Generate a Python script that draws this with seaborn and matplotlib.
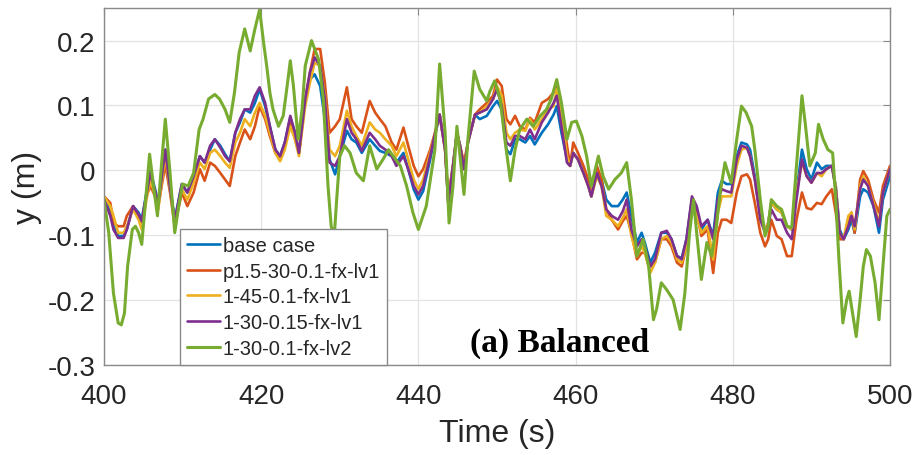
import numpy as np
import pandas as pd
import matplotlib
matplotlib.use("Agg")
import matplotlib.pyplot as plt
import seaborn as sns

# ---------------- data ----------------
t_main = [400.0, 400.8, 401.2, 401.8, 402.5, 402.9, 403.7, 404.4, 404.8, 405.4, 405.9, 406.5, 406.9, 407.8, 408.4, 409.0,
          409.9, 410.6, 411.4, 412.2, 412.8, 413.5, 414.1, 414.8, 415.4, 416.0,
          416.7, 417.3, 417.9, 418.6, 419.2, 419.8, 420.5, 421.1, 421.8, 422.4, 423.0, 423.7, 424.3, 424.8, 425.6, 426.2,
          426.8, 427.5, 428.1, 428.7, 429.4, 430.0, 430.9, 431.5, 432.1, 432.8,
          433.8, 434.5, 435.1, 435.8, 436.6, 437.2, 438.1, 438.7, 439.4, 440.0, 440.6, 441.5, 442.1, 442.7, 443.4, 443.8,
          444.4, 444.9, 445.3, 445.8, 446.3, 447.2, 447.8, 448.7, 449.5,
          450.0, 450.6, 451.2, 451.7, 452.3, 452.9, 453.6, 454.2, 454.8, 455.7, 456.5, 457.2, 457.6, 458.2, 458.9, 459.3,
          459.7, 460.3, 461.0, 461.6, 462.0, 462.7, 463.3, 463.9, 464.6, 465.4, 466.0,
          466.5, 467.1, 467.8, 468.4, 468.8, 469.5, 470.1, 470.9, 471.6, 472.2, 472.9, 473.5, 474.1, 474.8, 475.4, 476.0,
          476.8, 477.5, 478.1, 478.6, 479.2, 479.8, 480.5, 481.1, 481.8,
          482.2, 482.8, 483.5, 484.1, 484.5, 484.9, 485.6, 486.2, 486.9, 487.5, 488.1, 488.8, 489.4, 490.0, 490.7, 491.3,
          491.9, 492.6, 493.1, 493.6, 494.1, 494.7, 495.1, 495.5, 496.2, 496.6, 497.2, 497.9, 498.6, 499.1, 500.0]

y_base = [-0.042, -0.065, -0.086, -0.101, -0.101, -0.091, -0.055, -0.065, -0.076, -0.034, -0.001, -0.029, -0.050, 0.032,
          -0.024, -0.076, -0.021, -0.034, -0.009, 0.022, 0.012, 0.032, 0.048, 0.038, 0.025, 0.014,
          0.058, 0.074, 0.094, 0.089, 0.104, 0.125, 0.099, 0.068, 0.032, 0.022, 0.043, 0.081, 0.058, 0.027, 0.110, 0.140,
          0.148, 0.130, 0.079, 0.017, -0.006, 0.022, 0.061, 0.048, 0.043, 0.027,
          0.048, 0.038, 0.030, 0.027, 0.022, 0.012, 0.027, 0.002, -0.029, -0.045, -0.032, 0.017, 0.053, 0.086, 0.032,
          -0.050, 0.007, 0.058, 0.038, 0.002, 0.043, 0.086, 0.079, 0.084, 0.099,
          0.107, 0.094, 0.032, 0.025, 0.048, 0.048, 0.043, 0.053, 0.040, 0.058, 0.071, 0.086, 0.099, 0.058, 0.017, 0.007,
          0.027, 0.017, -0.004, -0.019, -0.040, -0.004, -0.014, -0.045, -0.055, -0.055, -0.045,
          -0.034, -0.070, -0.111, -0.096, -0.111, -0.142, -0.127, -0.096, -0.096, -0.106, -0.132, -0.135, -0.106, -0.045,
          -0.065, -0.091, -0.076, -0.101, -0.034, -0.016, -0.021, -0.021, 0.022, 0.043, 0.040,
          0.032, -0.009, -0.070, -0.091, -0.081, -0.050, -0.060, -0.065, -0.086, -0.091, -0.034, 0.032, 0.002, -0.014,
          0.012, 0.002, 0.007, 0.007, -0.024, -0.091, -0.106, -0.091, -0.076, -0.096, -0.040, -0.029, -0.034, -0.055,
          -0.096, -0.045, -0.009]

y_p15 = [-0.040, -0.050, -0.081, -0.086, -0.086, -0.070, -0.055, -0.070, -0.081, -0.040, -0.024, -0.040, -0.055, 0.009,
         -0.034, -0.086, -0.034, -0.055, -0.034, 0.002, -0.016, 0.012, 0.007, -0.004, -0.014, -0.024,
         0.022, 0.043, 0.063, 0.048, 0.068, 0.099, 0.079, 0.053, 0.027, 0.017, 0.038, 0.074, 0.048, 0.027, 0.110, 0.151,
         0.187, 0.187, 0.135, 0.058, 0.068, 0.079, 0.128, 0.079, 0.068, 0.058,
         0.107, 0.089, 0.079, 0.068, 0.043, 0.032, 0.066, 0.038, 0.007, -0.009, 0.002, 0.032, 0.058, 0.086, 0.032,
         -0.040, 0.007, 0.058, 0.038, 0.012, 0.043, 0.086, 0.094, 0.104, 0.115,
         0.140, 0.130, 0.079, 0.071, 0.084, 0.068, 0.063, 0.081, 0.074, 0.104, 0.110, 0.120, 0.135, 0.094, 0.038, 0.007,
         0.043, 0.027, 0.007, -0.014, -0.040, 0.007, -0.014, -0.060, -0.076, -0.091, -0.078,
         -0.070, -0.096, -0.137, -0.127, -0.127, -0.148, -0.142, -0.106, -0.106, -0.117, -0.142, -0.148, -0.117, -0.050,
         -0.065, -0.101, -0.091, -0.158, -0.096, -0.076, -0.076, -0.081, -0.034, -0.009, -0.006,
         -0.014, -0.050, -0.096, -0.117, -0.106, -0.076, -0.101, -0.106, -0.132, -0.132, -0.076, -0.034, -0.058, -0.060,
         -0.050, -0.052, -0.040, -0.029, -0.065, -0.106, -0.106, -0.076, -0.065, -0.096, -0.014, -0.001, -0.014, -0.045,
         -0.065, -0.024, 0.007]

y_45 = [-0.040, -0.055, -0.070, -0.096, -0.096, -0.086, -0.060, -0.076, -0.091, -0.045, -0.014, -0.040, -0.060, 0.022,
        -0.029, -0.081, -0.029, -0.045, -0.019, 0.012, 0.002, 0.027, 0.032, 0.022, 0.012, 0.004,
        0.043, 0.058, 0.079, 0.068, 0.089, 0.104, 0.084, 0.058, 0.027, 0.014, 0.032, 0.068, 0.048, 0.022, 0.099, 0.135,
        0.166, 0.161, 0.115, 0.032, 0.022, 0.038, 0.092, 0.068, 0.053, 0.038,
        0.074, 0.063, 0.058, 0.048, 0.038, 0.022, 0.043, 0.017, -0.014, -0.029, -0.014, 0.027, 0.056, 0.086, 0.032,
        -0.050, 0.007, 0.058, 0.038, 0.002, 0.043, 0.086, 0.089, 0.099, 0.110,
        0.130, 0.115, 0.058, 0.048, 0.058, 0.063, 0.061, 0.079, 0.063, 0.079, 0.094, 0.099, 0.125, 0.089, 0.022, 0.007,
        0.027, 0.017, -0.004, -0.024, -0.040, -0.009, -0.024, -0.070, -0.076, -0.086, -0.073,
        -0.060, -0.101, -0.132, -0.117, -0.127, -0.158, -0.142, -0.106, -0.101, -0.111, -0.137, -0.142, -0.117, -0.055,
        -0.070, -0.096, -0.086, -0.137, -0.065, -0.040, -0.040, -0.040, 0.007, 0.032, 0.035,
        0.022, -0.014, -0.070, -0.091, -0.081, -0.050, -0.060, -0.065, -0.086, -0.091, -0.034, 0.012, -0.009, -0.019,
        -0.004, -0.009, 0.002, 0.007, -0.024, -0.096, -0.106, -0.070, -0.065, -0.091, -0.024, -0.009, -0.024, -0.050,
        -0.081, -0.034, 0.002]

y_015 = [-0.045, -0.070, -0.091, -0.104, -0.104, -0.091, -0.055, -0.068, -0.078, -0.037, -0.004, -0.032, -0.052, 0.032,
         -0.027, -0.078, -0.021, -0.034, -0.009, 0.022, 0.012, 0.038, 0.048, 0.035, 0.022, 0.014,
         0.058, 0.079, 0.094, 0.094, 0.115, 0.128, 0.104, 0.068, 0.032, 0.022, 0.043, 0.084, 0.058, 0.027, 0.110, 0.151,
         0.174, 0.161, 0.110, 0.012, 0.007, 0.022, 0.079, 0.058, 0.048, 0.030,
         0.058, 0.048, 0.038, 0.032, 0.022, 0.007, 0.022, 0.002, -0.024, -0.037, -0.024, 0.022, 0.056, 0.086, 0.032,
         -0.050, 0.007, 0.058, 0.038, 0.002, 0.043, 0.086, 0.089, 0.094, 0.110,
         0.125, 0.099, 0.043, 0.038, 0.053, 0.053, 0.048, 0.063, 0.048, 0.074, 0.089, 0.104, 0.115, 0.068, 0.012, 0.007,
         0.027, 0.017, -0.004, -0.024, -0.040, -0.004, -0.024, -0.060, -0.070, -0.076, -0.063,
         -0.045, -0.091, -0.117, -0.106, -0.117, -0.148, -0.137, -0.096, -0.093, -0.106, -0.132, -0.137, -0.106, -0.040,
         -0.055, -0.086, -0.076, -0.106, -0.045, -0.029, -0.032, -0.034, 0.017, 0.038, 0.035,
         0.022, -0.014, -0.076, -0.096, -0.086, -0.060, -0.076, -0.076, -0.096, -0.106, -0.045, 0.017, -0.009, -0.019,
         -0.004, -0.004, 0.002, 0.007, -0.029, -0.096, -0.106, -0.086, -0.070, -0.086, -0.029, -0.014, -0.024, -0.055,
         -0.086, -0.034, 0.002]

t_lv2 = [400.0, 400.6, 401.2, 401.8, 402.2, 402.6, 403.0, 403.6, 404.0, 404.4, 404.8, 405.3, 405.8, 406.3, 406.8, 407.3,
         407.8, 408.4, 409.0, 409.5, 410.0, 410.7, 411.4, 412.1, 412.6, 413.3, 414.1, 414.7, 415.4, 416.0, 416.6, 417.2,
         417.9, 418.6, 419.2, 419.8, 420.3, 420.7, 421.1, 421.5, 422.2, 422.8, 423.3, 423.7, 424.1, 424.7, 425.2, 425.6,
         426.4, 427.3, 427.9, 428.5, 428.9, 429.3, 429.6, 430.0, 430.6, 431.3, 432.1, 433.0, 433.8, 434.7, 435.5, 436.2,
         436.8, 437.7, 438.5, 439.3, 440.0, 441.0, 442.1, 442.7, 443.4, 443.9, 444.4, 444.9, 445.3, 445.8, 446.3, 447.1,
         447.8, 448.7, 449.1, 449.7, 450.4, 451.0, 451.7, 452.3, 452.9, 453.8, 454.6, 455.5, 456.3, 456.9, 457.6, 458.2,
         458.9, 459.5, 460.1, 460.8, 461.4, 462.0, 462.9, 463.5, 464.2, 465.0, 465.8, 466.5, 467.1, 467.8, 468.6, 469.3,
         469.9, 470.3, 470.9, 471.6, 472.4, 473.3, 473.9, 474.5, 475.0, 475.4, 476.0, 476.7, 477.3, 477.9, 478.4, 479.0,
         479.4, 479.8, 480.5, 481.1, 481.7, 482.4, 482.8, 483.5, 484.1, 484.5, 484.9, 485.6, 486.2, 486.9, 487.5, 488.1,
         488.8, 489.2, 489.8, 490.5, 490.9, 491.5, 492.1, 492.7, 493.1, 493.5, 494.0, 494.5, 494.8, 495.3, 495.7, 496.2,
         496.6, 497.0, 497.5, 498.1, 498.6, 499.1, 499.6, 500.0]

y_lv2 = [-0.045, -0.096, -0.189, -0.235, -0.238, -0.220, -0.148, -0.091, -0.086, -0.096, -0.114, -0.045, 0.025, -0.024,
         -0.070, 0.007, 0.079, -0.004, -0.096, -0.055, -0.021, -0.024, -0.004, 0.063, 0.079, 0.110, 0.117, 0.110, 0.094,
         0.074, 0.120, 0.182, 0.218, 0.184, 0.218, 0.248, 0.197, 0.161, 0.120, 0.094, 0.068, 0.084, 0.130, 0.169, 0.130,
         0.048, 0.094, 0.161, 0.200, 0.171, 0.110, -0.024, -0.086, -0.101, -0.045, 0.022, 0.038, 0.027, -0.004, -0.016,
         0.038, 0.002, 0.017, 0.032, 0.022, 0.007, -0.024, -0.065, -0.091, -0.055, 0.032, 0.164, 0.058, -0.081, -0.024,
         0.068, 0.022, -0.037, 0.048, 0.153, 0.125, 0.107, 0.122, 0.138, 0.110, 0.048, -0.016, 0.032, 0.063, 0.079,
         0.068, 0.084, 0.094, 0.110, 0.140, 0.104, 0.048, 0.074, 0.076, 0.053, 0.022, -0.024, 0.022, -0.009, -0.029,
         -0.014, -0.004, 0.012, -0.045, -0.132, -0.106, -0.148, -0.230, -0.214, -0.173, -0.184, -0.199, -0.245, -0.189,
         -0.096, -0.045, -0.096, -0.168, -0.111, -0.132, -0.086, -0.034, 0.012, -0.004, -0.019, 0.048, 0.099, 0.089,
         0.068, 0.032, -0.045, -0.101, -0.086, -0.045, -0.055, -0.060, -0.086, -0.088, 0.007, 0.115, 0.074, 0.007,
         0.027, 0.071, 0.048, 0.032, 0.027, -0.045, -0.137, -0.235, -0.199, -0.186, -0.225, -0.256, -0.199, -0.148,
         -0.122, -0.132, -0.173, -0.230, -0.148, -0.070, -0.060]

labels = ["base case", "p1.5-30-0.1-fx-lv1", "1-45-0.1-fx-lv1", "1-30-0.15-fx-lv1", "1-30-0.1-fx-lv2"]
x_ticks = [400, 420, 440, 460, 480, 500]
y_ticks = [-0.3, -0.2, -0.1, 0, 0.1, 0.2]
y_tick_labels = ["-0.3", "-0.2", "-0.1", "0", "0.1", "0.2"]

# ---------------- style ----------------
sns.set_style("white")
plt.rcParams["font.family"] = ["Liberation Sans", "DejaVu Sans"]

colors = ["#0072BD", "#D95319", "#EDB120", "#7E2F8E", "#77AC30"]
widths = [1.9, 1.9, 1.9, 1.9, 2.2]

frames = []
series = [(t_main, y_base), (t_main, y_p15), (t_main, y_45), (t_main, y_015), (t_lv2, y_lv2)]
for lab, (tt, yy) in zip(labels, series):
    frames.append(pd.DataFrame({"Time": tt, "y": yy, "case": lab}))
df = pd.concat(frames, ignore_index=True)

fig = plt.figure(figsize=(9.18, 4.56), dpi=100)
ax = fig.add_axes([0.1133, 0.197, 0.8562, 0.783])

for lab, col, lw in zip(labels, colors, widths):
    sub = df[df["case"] == lab]
    sns.lineplot(data=sub, x="Time", y="y", ax=ax, color=col, linewidth=lw,
                 label=lab, sort=False, estimator=None)

ax.set_xlim(400, 500)
ax.set_ylim(-0.3, 0.25)
ax.set_xticks(x_ticks)
ax.set_yticks(y_ticks)
ax.set_yticklabels(y_tick_labels)
ax.grid(True, color="#e3e3e3", linewidth=0.9)
ax.set_axisbelow(True)
for s in ax.spines.values():
    s.set_color("#8a8a8a")
    s.set_linewidth(1.0)
ax.tick_params(axis="both", direction="in", length=5, width=0.8, colors="#8a8a8a",
               labelcolor="#262626", labelsize=20, top=True, right=True)
ax.tick_params(axis="x", pad=13)
ax.tick_params(axis="y", pad=6)
ax.set_xlabel("Time (s)", fontsize=23, color="#262626", labelpad=6)
ax.set_ylabel("y (m)", fontsize=23, color="#262626", labelpad=4)

leg = ax.legend(loc="lower left", bbox_to_anchor=(0.097, 0.0), fontsize=14.5, frameon=True,
                fancybox=False, edgecolor="#8a8a8a", framealpha=1.0, borderpad=0.35,
                labelspacing=0.34, handlelength=1.6, handletextpad=0.15, borderaxespad=0.0)
leg.get_frame().set_linewidth(1.0)
for txt in leg.get_texts():
    txt.set_color("#262626")

ax.text(446.6, -0.265, "(a) Balanced", fontsize=24, fontweight="bold",
        family=["Liberation Serif", "DejaVu Serif"], color="black", ha="left", va="center")

fig.savefig("out.png", dpi=100)
